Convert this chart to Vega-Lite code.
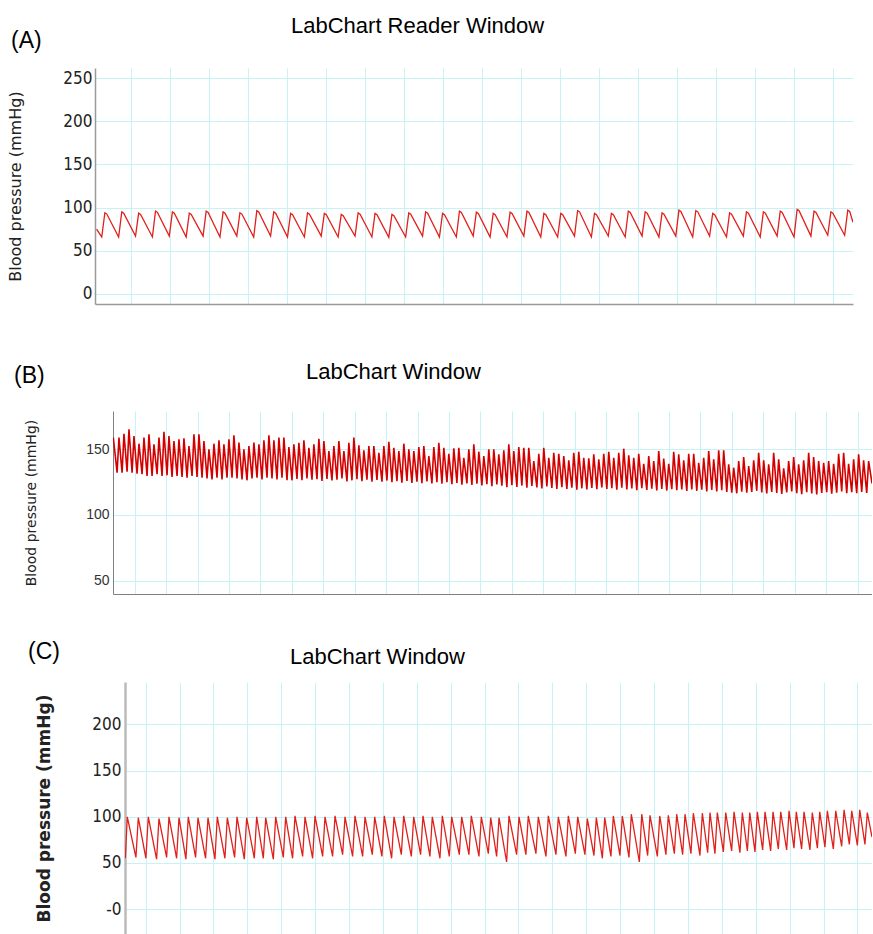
{
"$schema": "https://vega.github.io/schema/vega-lite/v6.json",
"background": "white",
"padding": {"left": 0, "top": 14, "right": 0, "bottom": 0},
"autosize": {"type": "pad"},
"config": {"view": {"stroke": null}, "axis": {"gridColor": "#c8f3f6", "gridWidth": 1, "ticks": false}},
"datasets": {
"A": [{"t":-0.88,"v":75},
{"t":-0.747,"v":66},{"t":-0.667,"v":94},{"t":-0.617,"v":92.5},
{"t":-0.314,"v":66},{"t":-0.234,"v":95},{"t":-0.184,"v":93.5},
{"t":0.119,"v":67},{"t":0.199,"v":93.5},{"t":0.249,"v":92},
{"t":0.551,"v":66},{"t":0.631,"v":96},{"t":0.681,"v":94.5},
{"t":0.984,"v":67},{"t":1.064,"v":95},{"t":1.114,"v":93.5},
{"t":1.417,"v":66},{"t":1.497,"v":93.5},{"t":1.547,"v":92},
{"t":1.850,"v":67},{"t":1.930,"v":96},{"t":1.980,"v":94.5},
{"t":2.283,"v":66},{"t":2.363,"v":95},{"t":2.413,"v":93.5},
{"t":2.715,"v":67},{"t":2.795,"v":94},{"t":2.845,"v":92.5},
{"t":3.148,"v":66},{"t":3.228,"v":96.5},{"t":3.278,"v":95},
{"t":3.581,"v":67},{"t":3.661,"v":95},{"t":3.711,"v":93.5},
{"t":4.014,"v":66},{"t":4.094,"v":93.2},{"t":4.144,"v":91.7},
{"t":4.447,"v":66},{"t":4.527,"v":93.9},{"t":4.577,"v":92.4},
{"t":4.879,"v":67},{"t":4.959,"v":93.2},{"t":5.009,"v":91.7},
{"t":5.312,"v":66},{"t":5.392,"v":92.1},{"t":5.442,"v":90.6},
{"t":5.745,"v":67},{"t":5.825,"v":93.9},{"t":5.875,"v":92.4},
{"t":6.178,"v":66},{"t":6.258,"v":93.2},{"t":6.308,"v":91.7},
{"t":6.611,"v":65.5},{"t":6.691,"v":92.1},{"t":6.741,"v":90.6},
{"t":7.043,"v":66},{"t":7.123,"v":93.9},{"t":7.173,"v":92.4},
{"t":7.476,"v":67},{"t":7.556,"v":95.1},{"t":7.606,"v":93.6},
{"t":7.909,"v":66},{"t":7.989,"v":93.2},{"t":8.039,"v":91.7},
{"t":8.342,"v":66},{"t":8.422,"v":95.9},{"t":8.472,"v":94.4},
{"t":8.775,"v":67},{"t":8.855,"v":94.7},{"t":8.905,"v":93.2},
{"t":9.207,"v":66},{"t":9.287,"v":93.2},{"t":9.337,"v":91.7},
{"t":9.640,"v":66},{"t":9.720,"v":94.7},{"t":9.770,"v":93.2},
{"t":10.073,"v":67},{"t":10.153,"v":95.9},{"t":10.203,"v":94.4},
{"t":10.506,"v":66},{"t":10.586,"v":93.2},{"t":10.636,"v":91.7},
{"t":10.939,"v":66},{"t":11.019,"v":93.2},{"t":11.069,"v":91.7},
{"t":11.371,"v":67},{"t":11.451,"v":96.6},{"t":11.501,"v":95.1},
{"t":11.804,"v":66},{"t":11.884,"v":93.2},{"t":11.934,"v":91.7},
{"t":12.237,"v":67},{"t":12.317,"v":93.2},{"t":12.367,"v":91.7},
{"t":12.670,"v":66},{"t":12.750,"v":95.9},{"t":12.800,"v":94.4},
{"t":13.103,"v":67},{"t":13.183,"v":95.1},{"t":13.233,"v":93.6},
{"t":13.535,"v":66},{"t":13.615,"v":93.9},{"t":13.665,"v":92.4},
{"t":13.968,"v":67},{"t":14.048,"v":97},{"t":14.098,"v":95.5},
{"t":14.401,"v":66},{"t":14.481,"v":96.6},{"t":14.531,"v":95.1},
{"t":14.834,"v":67},{"t":14.914,"v":93.2},{"t":14.964,"v":91.7},
{"t":15.267,"v":66},{"t":15.347,"v":93.9},{"t":15.397,"v":92.4},
{"t":15.699,"v":67},{"t":15.779,"v":95.1},{"t":15.829,"v":93.6},
{"t":16.132,"v":66},{"t":16.212,"v":95.1},{"t":16.262,"v":93.6},
{"t":16.565,"v":67},{"t":16.645,"v":95.9},{"t":16.695,"v":94.4},
{"t":16.998,"v":66},{"t":17.078,"v":97.8},{"t":17.128,"v":96.3},
{"t":17.431,"v":67},{"t":17.511,"v":95.9},{"t":17.561,"v":94.4},
{"t":17.863,"v":68},{"t":17.943,"v":95.1},{"t":17.993,"v":93.6},
{"t":18.296,"v":68},{"t":18.376,"v":97},{"t":18.426,"v":95.5},
{"t":18.51,"v":83}],
"B": [{"t":-0.68,"v":159},
{"t":-0.560,"v":132.2},{"t":-0.500,"v":158.9},
{"t":-0.401,"v":132.2},{"t":-0.341,"v":161.9},
{"t":-0.242,"v":133.0},{"t":-0.182,"v":165.2},
{"t":-0.083,"v":132.2},{"t":-0.023,"v":160.1},
{"t":0.076,"v":131.4},{"t":0.136,"v":154.3},
{"t":0.235,"v":131.0},{"t":0.295,"v":158.9},
{"t":0.394,"v":129.7},{"t":0.454,"v":161.4},
{"t":0.553,"v":129.7},{"t":0.613,"v":153.8},
{"t":0.712,"v":131.0},{"t":0.772,"v":158.9},
{"t":0.871,"v":129.7},{"t":0.931,"v":163.4},
{"t":1.030,"v":130.2},{"t":1.090,"v":160.1},
{"t":1.189,"v":128.9},{"t":1.249,"v":156.3},
{"t":1.348,"v":129.7},{"t":1.408,"v":157.6},
{"t":1.507,"v":128.9},{"t":1.567,"v":158.4},
{"t":1.666,"v":128.4},{"t":1.726,"v":152.5},
{"t":1.825,"v":129.7},{"t":1.885,"v":161.4},
{"t":1.984,"v":128.9},{"t":2.044,"v":161.4},
{"t":2.143,"v":128.4},{"t":2.203,"v":156.3},
{"t":2.302,"v":127.9},{"t":2.362,"v":150.0},
{"t":2.461,"v":127.1},{"t":2.521,"v":154.3},
{"t":2.620,"v":128.4},{"t":2.680,"v":156.9},
{"t":2.779,"v":127.1},{"t":2.839,"v":153.8},
{"t":2.938,"v":128.4},{"t":2.998,"v":157.6},
{"t":3.097,"v":128.4},{"t":3.157,"v":160.7},
{"t":3.256,"v":127.9},{"t":3.316,"v":155.1},
{"t":3.415,"v":127.1},{"t":3.475,"v":150.0},
{"t":3.574,"v":126.4},{"t":3.634,"v":152.5},
{"t":3.733,"v":127.9},{"t":3.793,"v":155.1},
{"t":3.892,"v":128.4},{"t":3.952,"v":153.8},
{"t":4.051,"v":127.1},{"t":4.111,"v":156.9},
{"t":4.210,"v":128.4},{"t":4.270,"v":160.7},
{"t":4.369,"v":127.9},{"t":4.429,"v":156.9},
{"t":4.528,"v":127.1},{"t":4.588,"v":158.9},
{"t":4.687,"v":128.4},{"t":4.747,"v":158.9},
{"t":4.846,"v":126.4},{"t":4.906,"v":151.8},
{"t":5.005,"v":126.4},{"t":5.065,"v":153.8},
{"t":5.164,"v":127.5},{"t":5.224,"v":155.0},
{"t":5.323,"v":126.5},{"t":5.383,"v":156.9},
{"t":5.482,"v":127.8},{"t":5.542,"v":151.2},
{"t":5.641,"v":126.8},{"t":5.701,"v":153.8},
{"t":5.800,"v":127.2},{"t":5.860,"v":158.1},
{"t":5.959,"v":126.0},{"t":6.019,"v":156.3},
{"t":6.118,"v":127.5},{"t":6.178,"v":148.7},
{"t":6.277,"v":126.3},{"t":6.337,"v":152.5},
{"t":6.436,"v":126.8},{"t":6.496,"v":156.3},
{"t":6.595,"v":127.9},{"t":6.655,"v":148.7},
{"t":6.754,"v":125.6},{"t":6.814,"v":155.0},
{"t":6.913,"v":126.4},{"t":6.973,"v":158.9},
{"t":7.072,"v":127.2},{"t":7.132,"v":153.0},
{"t":7.231,"v":125.8},{"t":7.291,"v":149.2},
{"t":7.390,"v":126.9},{"t":7.450,"v":152.5},
{"t":7.549,"v":125.3},{"t":7.609,"v":152.5},
{"t":7.708,"v":126.6},{"t":7.768,"v":147.4},
{"t":7.867,"v":125.4},{"t":7.927,"v":152.5},
{"t":8.026,"v":126.2},{"t":8.086,"v":155.8},
{"t":8.185,"v":124.9},{"t":8.245,"v":151.2},
{"t":8.344,"v":125.8},{"t":8.404,"v":148.7},
{"t":8.503,"v":124.6},{"t":8.563,"v":154.3},
{"t":8.662,"v":125.9},{"t":8.722,"v":150.0},
{"t":8.821,"v":124.4},{"t":8.881,"v":148.7},
{"t":8.980,"v":125.4},{"t":9.040,"v":151.8},
{"t":9.139,"v":124.2},{"t":9.199,"v":152.5},
{"t":9.298,"v":125.6},{"t":9.358,"v":144.9},
{"t":9.457,"v":124.0},{"t":9.517,"v":151.8},
{"t":9.616,"v":124.9},{"t":9.676,"v":155.0},
{"t":9.775,"v":123.8},{"t":9.835,"v":151.2},
{"t":9.934,"v":124.9},{"t":9.994,"v":146.6},
{"t":10.093,"v":123.4},{"t":10.153,"v":150.8},
{"t":10.252,"v":124.4},{"t":10.312,"v":151.2},
{"t":10.411,"v":123.1},{"t":10.471,"v":143.6},
{"t":10.570,"v":124.0},{"t":10.630,"v":150.0},
{"t":10.729,"v":122.8},{"t":10.789,"v":153.8},
{"t":10.888,"v":123.9},{"t":10.948,"v":148.2},
{"t":11.047,"v":122.5},{"t":11.107,"v":144.9},
{"t":11.206,"v":123.4},{"t":11.266,"v":150.0},
{"t":11.365,"v":122.0},{"t":11.425,"v":150.0},
{"t":11.524,"v":123.3},{"t":11.584,"v":146.2},
{"t":11.683,"v":122.3},{"t":11.743,"v":149.2},
{"t":11.842,"v":121.2},{"t":11.902,"v":153.8},
{"t":12.001,"v":122.6},{"t":12.061,"v":148.7},
{"t":12.160,"v":121.4},{"t":12.220,"v":151.8},
{"t":12.319,"v":122.4},{"t":12.379,"v":151.2},
{"t":12.478,"v":120.8},{"t":12.538,"v":151.2},
{"t":12.637,"v":122.1},{"t":12.697,"v":141.1},
{"t":12.796,"v":121.0},{"t":12.856,"v":146.6},
{"t":12.955,"v":120.2},{"t":13.015,"v":151.2},
{"t":13.114,"v":121.7},{"t":13.174,"v":143.6},
{"t":13.273,"v":120.6},{"t":13.333,"v":147.4},
{"t":13.432,"v":119.8},{"t":13.492,"v":146.6},
{"t":13.591,"v":121.2},{"t":13.651,"v":144.9},
{"t":13.750,"v":119.9},{"t":13.810,"v":141.6},
{"t":13.909,"v":120.8},{"t":13.969,"v":147.4},
{"t":14.068,"v":119.2},{"t":14.128,"v":148.2},
{"t":14.227,"v":120.3},{"t":14.287,"v":143.6},
{"t":14.386,"v":119.5},{"t":14.446,"v":143.1},
{"t":14.545,"v":120.6},{"t":14.605,"v":146.2},
{"t":14.704,"v":119.6},{"t":14.764,"v":142.4},
{"t":14.863,"v":120.9},{"t":14.923,"v":146.6},
{"t":15.022,"v":119.8},{"t":15.082,"v":148.2},
{"t":15.181,"v":120.4},{"t":15.241,"v":143.6},
{"t":15.340,"v":119.3},{"t":15.400,"v":147.4},
{"t":15.499,"v":120.7},{"t":15.559,"v":150.5},
{"t":15.658,"v":119.5},{"t":15.718,"v":145.4},
{"t":15.817,"v":120.2},{"t":15.877,"v":143.6},
{"t":15.976,"v":118.9},{"t":16.036,"v":146.6},
{"t":16.135,"v":120.4},{"t":16.195,"v":139.0},
{"t":16.294,"v":119.1},{"t":16.354,"v":144.9},
{"t":16.453,"v":120.0},{"t":16.513,"v":141.1},
{"t":16.612,"v":118.7},{"t":16.672,"v":148.7},
{"t":16.771,"v":119.9},{"t":16.831,"v":142.9},
{"t":16.930,"v":118.6},{"t":16.990,"v":139.0},
{"t":17.089,"v":119.7},{"t":17.149,"v":148.2},
{"t":17.248,"v":118.9},{"t":17.308,"v":146.2},
{"t":17.407,"v":119.4},{"t":17.467,"v":141.6},
{"t":17.566,"v":118.3},{"t":17.626,"v":146.6},
{"t":17.725,"v":119.5},{"t":17.785,"v":146.6},
{"t":17.884,"v":118.4},{"t":17.944,"v":139.8},
{"t":18.043,"v":119.2},{"t":18.103,"v":143.6},
{"t":18.202,"v":118.0},{"t":18.262,"v":148.7},
{"t":18.361,"v":119.0},{"t":18.421,"v":142.4},
{"t":18.520,"v":117.9},{"t":18.580,"v":149.2},
{"t":18.679,"v":118.8},{"t":18.739,"v":149.2},
{"t":18.838,"v":117.6},{"t":18.898,"v":138.6},
{"t":18.997,"v":117.0},{"t":19.057,"v":136.0},
{"t":19.156,"v":116.5},{"t":19.216,"v":141.1},
{"t":19.315,"v":117.8},{"t":19.375,"v":144.1},
{"t":19.474,"v":116.9},{"t":19.534,"v":137.3},
{"t":19.633,"v":117.5},{"t":19.693,"v":141.6},
{"t":19.792,"v":118.4},{"t":19.852,"v":147.4},
{"t":19.951,"v":117.1},{"t":20.011,"v":141.6},
{"t":20.110,"v":116.4},{"t":20.170,"v":138.6},
{"t":20.269,"v":117.6},{"t":20.329,"v":147.4},
{"t":20.428,"v":116.8},{"t":20.488,"v":142.4},
{"t":20.587,"v":116.0},{"t":20.647,"v":135.5},
{"t":20.746,"v":117.2},{"t":20.806,"v":141.1},
{"t":20.905,"v":117.9},{"t":20.965,"v":144.1},
{"t":21.064,"v":116.6},{"t":21.124,"v":138.6},
{"t":21.223,"v":115.8},{"t":21.283,"v":141.6},
{"t":21.382,"v":117.3},{"t":21.442,"v":147.4},
{"t":21.541,"v":116.4},{"t":21.601,"v":144.1},
{"t":21.700,"v":115.6},{"t":21.760,"v":141.1},
{"t":21.859,"v":116.8},{"t":21.919,"v":139.8},
{"t":22.018,"v":117.4},{"t":22.078,"v":141.1},
{"t":22.177,"v":116.2},{"t":22.237,"v":139.0},
{"t":22.336,"v":117.0},{"t":22.396,"v":146.6},
{"t":22.495,"v":118.0},{"t":22.555,"v":147.4},
{"t":22.654,"v":116.5},{"t":22.714,"v":139.0},
{"t":22.813,"v":117.3},{"t":22.873,"v":142.4},
{"t":22.972,"v":116.6},{"t":23.032,"v":146.2},
{"t":23.131,"v":117.5},{"t":23.191,"v":141.6},
{"t":23.290,"v":116.8},{"t":23.350,"v":141.1},
{"t":23.458,"v":124}],
"C": [{"t":-0.60,"v":55},{"t":-0.543,"v":100},
{"t":-0.288,"v":56},{"t":-0.218,"v":99},
{"t":0.007,"v":55},{"t":0.077,"v":100},
{"t":0.322,"v":54},{"t":0.392,"v":98},
{"t":0.618,"v":56},{"t":0.688,"v":100},
{"t":0.913,"v":55},{"t":0.983,"v":99},
{"t":1.187,"v":54},{"t":1.257,"v":100},
{"t":1.473,"v":56},{"t":1.543,"v":99},
{"t":1.768,"v":55},{"t":1.838,"v":99},
{"t":2.043,"v":54},{"t":2.113,"v":100},
{"t":2.338,"v":55},{"t":2.408,"v":99},
{"t":2.624,"v":56},{"t":2.694,"v":100},
{"t":2.910,"v":54},{"t":2.980,"v":99},
{"t":3.205,"v":55},{"t":3.275,"v":100},
{"t":3.471,"v":55},{"t":3.541,"v":99},
{"t":3.766,"v":54},{"t":3.836,"v":100},
{"t":4.061,"v":56},{"t":4.131,"v":100},
{"t":4.335,"v":55},{"t":4.405,"v":101},
{"t":4.631,"v":57},{"t":4.701,"v":100},
{"t":4.926,"v":55},{"t":4.996,"v":101},
{"t":5.221,"v":57},{"t":5.291,"v":100},
{"t":5.516,"v":57},{"t":5.586,"v":101},
{"t":5.811,"v":59},{"t":5.881,"v":100},
{"t":6.106,"v":57},{"t":6.176,"v":101},
{"t":6.401,"v":57},{"t":6.471,"v":100},
{"t":6.687,"v":59},{"t":6.757,"v":100},
{"t":6.970,"v":57},{"t":7.040,"v":101},
{"t":7.257,"v":55},{"t":7.327,"v":100},
{"t":7.543,"v":59},{"t":7.613,"v":101},
{"t":7.838,"v":57},{"t":7.908,"v":100},
{"t":8.112,"v":59},{"t":8.182,"v":101},
{"t":8.387,"v":57},{"t":8.457,"v":100},
{"t":8.682,"v":55},{"t":8.752,"v":101},
{"t":8.959,"v":57},{"t":9.029,"v":100},
{"t":9.254,"v":59},{"t":9.324,"v":100},
{"t":9.538,"v":59},{"t":9.608,"v":101},
{"t":9.833,"v":57},{"t":9.903,"v":100},
{"t":10.110,"v":60},{"t":10.180,"v":99},
{"t":10.355,"v":57},{"t":10.425,"v":99},
{"t":10.650,"v":51},{"t":10.720,"v":101},
{"t":10.945,"v":59},{"t":11.015,"v":100},
{"t":11.219,"v":59},{"t":11.289,"v":101},
{"t":11.514,"v":60},{"t":11.584,"v":100},
{"t":11.810,"v":57},{"t":11.880,"v":101},
{"t":12.105,"v":59},{"t":12.175,"v":100},
{"t":12.400,"v":57},{"t":12.470,"v":101},
{"t":12.677,"v":60},{"t":12.747,"v":100},
{"t":12.960,"v":59},{"t":13.030,"v":98},
{"t":13.226,"v":58},{"t":13.296,"v":99.1},
{"t":13.474,"v":55},{"t":13.544,"v":99.1},
{"t":13.727,"v":57},{"t":13.797,"v":100.9},
{"t":13.993,"v":58},{"t":14.063,"v":100.9},
{"t":14.259,"v":56},{"t":14.329,"v":102.8},
{"t":14.566,"v":51},{"t":14.636,"v":102.8},
{"t":14.810,"v":58},{"t":14.880,"v":101.6},
{"t":15.097,"v":57},{"t":15.167,"v":100.9},
{"t":15.350,"v":59},{"t":15.420,"v":101.6},
{"t":15.598,"v":60},{"t":15.668,"v":102.8},
{"t":15.843,"v":59},{"t":15.913,"v":102.8},
{"t":16.088,"v":60},{"t":16.158,"v":103.9},
{"t":16.354,"v":58},{"t":16.424,"v":103.9},
{"t":16.581,"v":61},{"t":16.651,"v":104.6},
{"t":16.796,"v":60},{"t":16.866,"v":104.6},
{"t":17.044,"v":62},{"t":17.114,"v":104.6},
{"t":17.289,"v":63},{"t":17.359,"v":105.3},
{"t":17.534,"v":61},{"t":17.604,"v":104.6},
{"t":17.753,"v":63},{"t":17.823,"v":104.6},
{"t":17.977,"v":62},{"t":18.047,"v":105.3},
{"t":18.204,"v":64},{"t":18.274,"v":105.3},
{"t":18.440,"v":63},{"t":18.510,"v":105.3},
{"t":18.667,"v":65},{"t":18.737,"v":105.3},
{"t":18.912,"v":64},{"t":18.982,"v":106.4},
{"t":19.127,"v":66},{"t":19.197,"v":105.3},
{"t":19.354,"v":65},{"t":19.424,"v":105.3},
{"t":19.599,"v":64},{"t":19.669,"v":104.6},
{"t":19.818,"v":66},{"t":19.888,"v":105.3},
{"t":20.042,"v":67},{"t":20.112,"v":106.4},
{"t":20.290,"v":65},{"t":20.360,"v":106.4},
{"t":20.535,"v":68},{"t":20.605,"v":107.5},
{"t":20.762,"v":70},{"t":20.832,"v":106.4},
{"t":20.998,"v":69},{"t":21.068,"v":107.5},
{"t":21.222,"v":70},{"t":21.292,"v":104.6},
{"t":21.43,"v":78}]
},
"spacing": 56,
"vconcat": [
{
 "title": {"text": "LabChart Reader Window", "anchor": "start", "frame": "bounds", "dx": 291, "offset": -24.7, "baseline": "alphabetic", "font": "Liberation Sans", "fontSize": 22, "fontWeight": "normal", "color": "#000000"},
 "spacing": 0,
 "hconcat": [
  {"width": 6, "height": 10, "data": {"values": [{"t": 0}]}, "mark": {"type": "point", "opacity": 0}, "encoding": {}},
  {
   "width": 758, "height": 236,
   "title": {"text": "(A)", "anchor": "start", "frame": "group", "dx": -84, "offset": -3, "baseline": "alphabetic", "font": "Liberation Sans", "fontSize": 23, "fontWeight": "normal", "color": "#000000"},
   "data": {"name": "A"},
   "mark": {"type": "line", "color": "#e0201b", "strokeWidth": 1.3, "clip": true},
   "encoding": {
    "x": {"field": "t", "type": "quantitative", "scale": {"domain": [-0.92, 18.51], "nice": false, "zero": false},
     "axis": {"values": [0,1,2,3,4,5,6,7,8,9,10,11,12,13,14,15,16,17,18], "grid": true, "labels": false, "title": null, "domainColor": "#9a9a9a", "domainWidth": 1.5}},
    "y": {"field": "v", "type": "quantitative", "scale": {"domain": [-11.6, 261.6], "nice": false, "zero": false},
     "axis": {"values": [0,50,100,150,200,250], "grid": true, "title": "Blood pressure (mmHg)", "titleFont": "DejaVu Sans", "titleFontSize": 16, "titleFontWeight": "normal", "titleColor": "#222222", "titleX": -80, "titleBaseline": "middle", "labelFont": "DejaVu Sans Condensed, Liberation Sans", "labelFontSize": 17, "labelColor": "#222222", "labelPadding": 3, "domainColor": "#9a9a9a", "domainWidth": 1.5}}
   }
  }
 ]
},
{
 "spacing": 47,
 "vconcat": [
  {
   "title": {"text": "LabChart Window", "anchor": "start", "frame": "bounds", "dx": 306, "offset": -35.7, "baseline": "alphabetic", "font": "Liberation Sans", "fontSize": 22, "fontWeight": "normal", "color": "#000000"},
   "spacing": 0,
   "hconcat": [
    {"width": 14, "height": 10, "data": {"values": [{"t": 0}]}, "mark": {"type": "point", "opacity": 0}, "encoding": {}},
    {
     "width": 759, "height": 183,
     "title": {"text": "(B)", "anchor": "start", "frame": "group", "dx": -99, "offset": 5, "baseline": "alphabetic", "font": "Liberation Sans", "fontSize": 23, "fontWeight": "normal", "color": "#000000"},
     "data": {"name": "B"},
     "mark": {"type": "line", "color": "#d40000", "strokeWidth": 1.6, "clip": true},
     "encoding": {
      "x": {"field": "t", "type": "quantitative", "scale": {"domain": [-0.69, 23.458], "nice": false, "zero": false},
       "axis": {"values": [0,1,2,3,4,5,6,7,8,9,10,11,12,13,14,15,16,17,18,19,20,21,22,23], "grid": true, "labels": false, "title": null, "domainColor": "#808080", "domainWidth": 1}},
      "y": {"field": "v", "type": "quantitative", "scale": {"domain": [39.8, 179.2], "nice": false, "zero": false},
       "axis": {"values": [50,100,150], "grid": true, "title": "Blood pressure (mmHg)", "titleFont": "DejaVu Sans", "titleFontSize": 14, "titleFontWeight": "normal", "titleColor": "#222222", "titleX": -82, "titleBaseline": "middle", "labelFont": "Liberation Sans", "labelFontSize": 14, "labelColor": "#333333", "labelPadding": 4, "domainColor": "#808080", "domainWidth": 1}}
     }
    }
   ]
  },
  {
   "title": {"text": "(C)", "anchor": "start", "frame": "bounds", "dx": 28, "offset": -36, "baseline": "alphabetic", "font": "Liberation Sans", "fontSize": 23, "fontWeight": "normal", "color": "#000000"},
   "spacing": 0,
   "hconcat": [
    {"width": 34, "height": 10, "data": {"values": [{"t": 0}]}, "mark": {"type": "point", "opacity": 0}, "encoding": {}},
    {
     "width": 747, "height": 252,
     "title": {"text": "LabChart Window", "anchor": "start", "frame": "group", "dx": 165, "offset": -4, "baseline": "alphabetic", "font": "Liberation Sans", "fontSize": 22, "fontWeight": "normal", "color": "#000000"},
     "data": {"name": "C"},
     "mark": {"type": "line", "color": "#e0201b", "strokeWidth": 1.3, "clip": true},
     "encoding": {
      "x": {"field": "t", "type": "quantitative", "scale": {"domain": [-0.61, 21.43], "nice": false, "zero": false},
       "axis": {"values": [0,1,2,3,4,5,6,7,8,9,10,11,12,13,14,15,16,17,18,19,20,21], "grid": true, "labels": false, "title": null, "domain": false}},
      "y": {"field": "v", "type": "quantitative", "scale": {"domain": [-27, 246], "nice": false, "zero": false},
       "axis": {"values": [0,50,100,150,200], "grid": true, "title": "Blood pressure (mmHg)", "titleFont": "DejaVu Sans", "titleFontSize": 17, "titleFontWeight": "bold", "titleColor": "#222222", "titleX": -81, "titleBaseline": "middle", "labelFont": "DejaVu Sans Condensed, Liberation Sans", "labelFontSize": 17, "labelColor": "#222222", "labelPadding": 4, "labelExpr": "datum.value === 0 ? '-0' : datum.label", "domainColor": "#bbbbbb", "domainWidth": 2.5}}
     }
    }
   ]
  }
 ]
}
]
}
